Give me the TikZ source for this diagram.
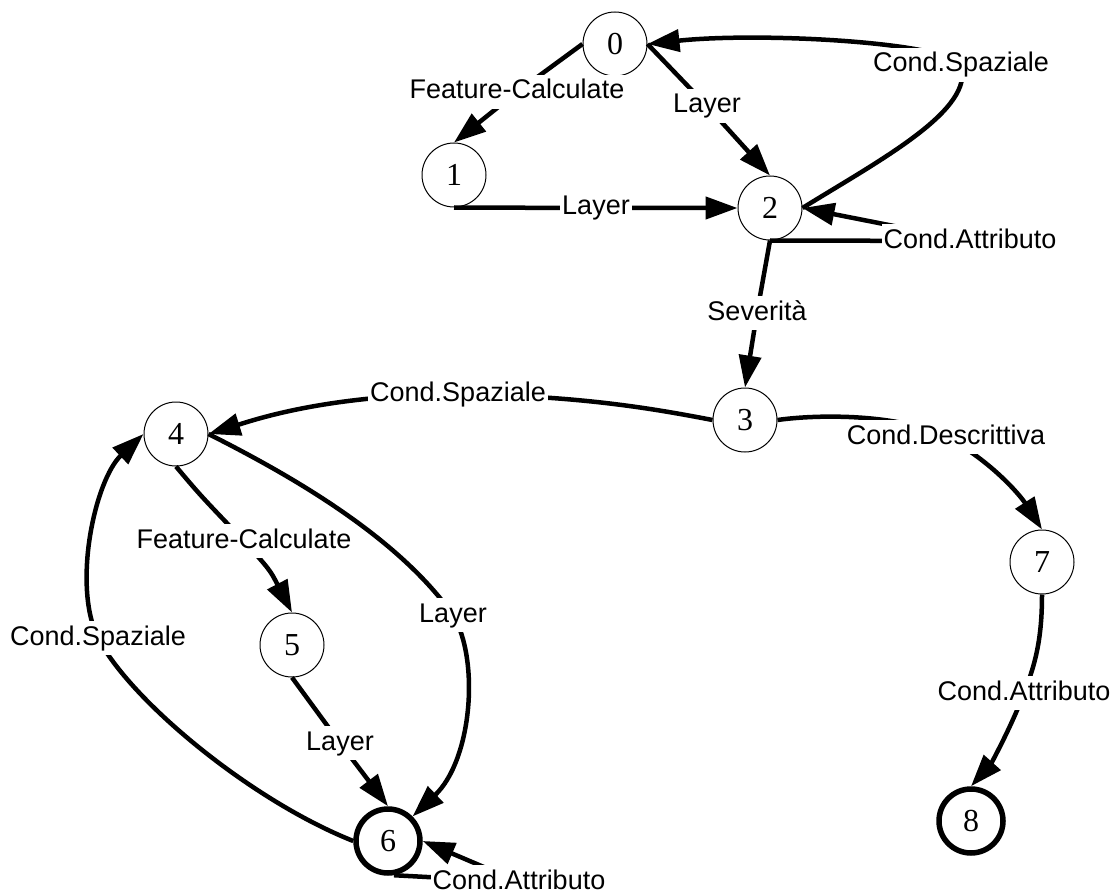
\documentclass[tikz,border=0pt]{standalone}
\usepackage{fontspec}
\setmainfont{Liberation Serif}
\newfontfamily\labfont{Liberation Sans}
\usetikzlibrary{arrows.meta}
\begin{document}
\begin{tikzpicture}[x=1pt,y=-1pt,
  state/.style={circle,draw,line width=1pt,minimum size=64pt,inner sep=0pt,
    font=\fontsize{32}{32}\selectfont},
  final/.style={state,line width=5.5pt},
  edge/.style={line width=4.5pt,-{Triangle[length=32pt,width=22pt]}},
  lab/.style={fill=white,inner xsep=2pt,inner ysep=4pt,text height=20pt,text depth=6pt,
    font=\labfont\fontsize{27}{27}\selectfont}]
\useasboundingbox (0,0) rectangle (1114,896);

% states
\node[state] (n0) at (615,44) {0};
\node[state] (n1) at (454,175) {1};
\node[state] (n2) at (770,208) {2};
\node[state] (n3) at (745,420) {3};
\node[state] (n4) at (176,434) {4};
\node[state] (n5) at (292,645) {5};
\node[final] (n6) at (388,841) {6};
\node[state] (n7) at (1042,562) {7};
\node[final] (n8) at (971,821) {8};

% transitions
\draw[edge] (n0.west) -- (517,92) node[lab]{Feature-Calculate} -- (n1.north);
\draw[edge] (n0.east) -- (707,106) node[lab]{Layer} -- (n2.north);
\draw[edge] (n1.south) -- (596,208) node[lab]{Layer} -- (n2.west);
\draw[edge] (n2.east) .. controls (880,160) and (975,110) .. (961,65)
  node[lab]{Cond.Spaziale} .. controls (945,42) and (760,32) .. (n0.east);
\draw[edge] (n2.south) -- (970,241) node[lab]{Cond.Attributo}
  -- (n2.east);
\draw[edge] (n2.south) -- (757,313) node[lab]{Severit\`a} -- (n3.north);
\draw[edge] (n3.west) .. controls (650,408) and (580,396) .. (458,394)
  node[lab]{Cond.Spaziale} .. controls (330,395) and (260,418) .. (n4.east);
\draw[edge] (n3.east) .. controls (820,414) and (900,414) .. (946,437)
  node[lab]{Cond.Descrittiva} .. controls (990,460) and (1020,495) .. (n7.north);
\draw[edge] (n7.south) .. controls (1042,640) and (1035,665) .. (1024,693)
  node[lab]{Cond.Attributo} .. controls (1010,730) and (990,765) .. (n8.north);
\draw[edge] (n4.south) .. controls (200,495) .. (244,541)
  node[lab]{Feature-Calculate} .. controls (270,570) .. (n5.north);
\draw[edge] (n4.east) .. controls (300,480) and (400,540) .. (453,615)
  node[lab]{Layer} .. controls (480,660) and (472,760) .. (n6.45);
\draw[edge] (n5.south) -- (340,743) node[lab]{Layer} -- (n6.north);
\draw[edge] (n6.west) .. controls (250,800) and (130,700) .. (98,638)
  node[lab]{Cond.Spaziale} .. controls (72,585) and (95,480) .. (n4.west);
\draw[edge] (n6.-80) -- (519,882) node[lab]{Cond.Attributo} -- (n6.east);
\end{tikzpicture}
\end{document}
